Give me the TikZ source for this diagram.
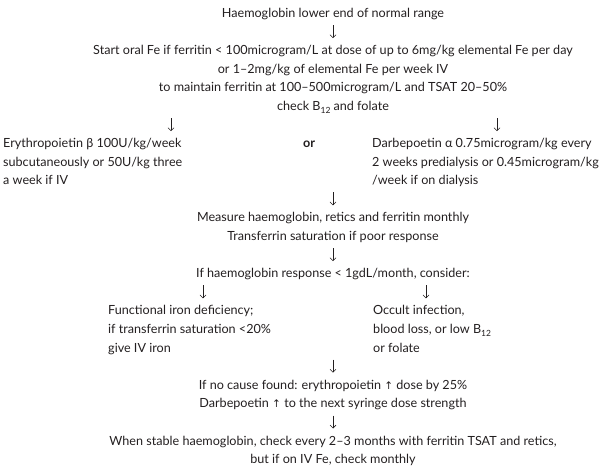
\documentclass[tikz,border=0pt]{standalone}
\usepackage{fontspec}
\setmainfont{Lato}
\newfontfamily\symfont{DejaVu Sans}
\usetikzlibrary{arrows.meta}
\definecolor{ink}{HTML}{231F20}
\newcommand{\uparrowglyph}{{\symfont\fontsize{10.5}{10.5}\selectfont ↑}}
\newcommand{\lowsub}[1]{\raisebox{-2.8pt}{\fontsize{8.5}{8.5}\selectfont #1}}
\tikzset{
  txt/.style={inner sep=0pt, text=ink, font=\fontsize{12.6}{18.6}\selectfont},
  ctrblock/.style={txt, align=center, anchor=north},
  lftblock/.style={txt, align=left, anchor=north west},
  oneline/.style={txt, anchor=base},
  arr/.style={draw=ink, -{Straight Barb[length=3pt,width=6pt]}, line width=0.55pt},
}
\begin{document}
\begin{tikzpicture}[x=1pt, y=-1pt]
\useasboundingbox (0,0) rectangle (604,468);

% text blocks (row centre y = 13 + (r-1)*18.6; first-line top = y - 8.8)
\node[oneline] (hb) at (333,17.4) {Haemoglobin lower end of normal range};
\node[ctrblock] (fe) at (333,41.4) {\strut Start oral Fe if ferritin < 100microgram/L at dose of up to 6mg/kg elemental Fe per day\\
or 1–2mg/kg of elemental Fe per week IV\\
to maintain ferritin at 100–500microgram/L and TSAT 20–50\%\\
check B\lowsub{12} and folate};
\node[lftblock] (epo) at (3,134.4) {\strut Erythropoietin β 100U/kg/week\\subcutaneously or 50U/kg three\\a week if IV};
\node[oneline, font=\fontsize{12.6}{18.6}\selectfont\bfseries] (or) at (309,147.6) {or};
\node[lftblock] (darb) at (372,134.4) {\strut Darbepoetin α 0.75microgram/kg every\\2 weeks predialysis or 0.45microgram/kg\\/week if on dialysis};
\node[ctrblock] (meas) at (333,208.6) {\strut Measure haemoglobin, retics and ferritin monthly\\Transferrin saturation if poor response};
\node[oneline] (resp) at (333,277.6) {If haemoglobin response < 1gdL/month, consider:};
\node[lftblock] (fid) at (108,301.6) {\strut Functional iron deficiency;\\if transferrin saturation <20\%\\give IV iron};
\node[lftblock] (occ) at (373,301.6) {\strut Occult infection,\\blood loss, or low B\lowsub{12}\\or folate};
\node[ctrblock] (dose) at (333,376.0) {\strut If no cause found: erythropoietin \uparrowglyph{} dose by 25\%\\Darbepoetin \uparrowglyph{} to the next syringe dose strength};
\node[ctrblock] (stab) at (333,431.8) {\strut When stable haemoglobin, check every 2–3 months with ferritin TSAT and retics,\\but if on IV Fe, check monthly};

% arrow end points
\coordinate (a1t) at (333,25.1);  \coordinate (a1b) at (333,38.1);
\coordinate (a2t) at (171,118.1); \coordinate (a2b) at (171,131.1);
\coordinate (a3t) at (497,118.1); \coordinate (a3b) at (497,131.1);
\coordinate (a4t) at (333,192.3); \coordinate (a4b) at (333,205.3);
\coordinate (a5t) at (333,248.1); \coordinate (a5b) at (333,261.1);
\coordinate (a6t) at (203,285.3); \coordinate (a6b) at (203,298.3);
\coordinate (a7t) at (426,285.3); \coordinate (a7b) at (426,298.3);
\coordinate (a8t) at (333,359.7); \coordinate (a8b) at (333,372.7);
\coordinate (a9t) at (333,415.5); \coordinate (a9b) at (333,428.5);

\draw[arr] (a1t) -- (a1b);
\draw[arr] (a2t) -- (a2b);
\draw[arr] (a3t) -- (a3b);
\draw[arr] (a4t) -- (a4b);
\draw[arr] (a5t) -- (a5b);
\draw[arr] (a6t) -- (a6b);
\draw[arr] (a7t) -- (a7b);
\draw[arr] (a8t) -- (a8b);
\draw[arr] (a9t) -- (a9b);
\end{tikzpicture}
\end{document}
